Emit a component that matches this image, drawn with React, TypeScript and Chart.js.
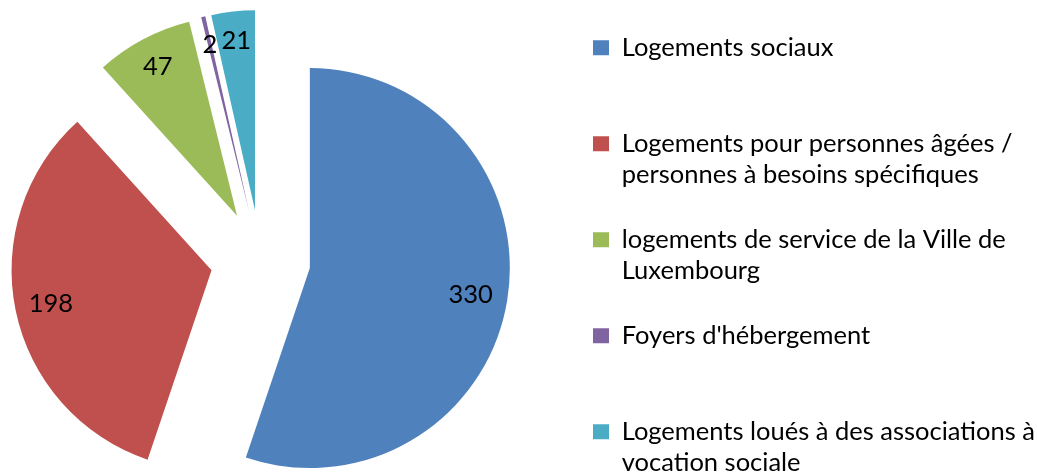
import React, { useEffect, useRef } from 'react';
import { Chart, registerables, ArcElement, PieController } from 'chart.js';

// ---- data ----
const categories: string[][] = [
  ['Logements sociaux'],
  ['Logements pour personnes âgées /', 'personnes à besoins spécifiques'],
  ['logements de service de la Ville de', 'Luxembourg'],
  ["Foyers d'hébergement"],
  ['Logements loués à des associations à', 'vocation sociale'],
];
const values = [330, 198, 47, 2, 21];
const colors = ['#4F81BD', '#C0504D', '#9BBB59', '#8064A2', '#4BACC6'];

// ---- style / layout ----
const EXPLODE = 50; // px each slice is pulled out
const PIE_RADIUS = 200;
const LABEL_RADIUS = [0.815, 0.82, 0.845, 0.855, 0.855];
const FONT_FAMILY = 'Lato, "Open Sans", sans-serif';
const FONT_SIZE = 25.5;
const SHIFT_X = 39; // canvas is drawn wider/taller than the view and clipped
const CANVAS_W = 1140;
const CANVAS_H = 518;
const LEGEND_PAD = 33;
const BOX_W = 16;
const LEGEND_LEFT = 599; // canvas px where the legend block starts

class ExplodedArc extends ArcElement {
  static id = 'explodedArc';
  draw(ctx: CanvasRenderingContext2D) {
    const mid = (this.startAngle + this.endAngle) / 2;
    ctx.save();
    ctx.translate(Math.cos(mid) * EXPLODE, Math.sin(mid) * EXPLODE);
    super.draw(ctx);
    ctx.restore();
  }
}

class ExplodedPieController extends PieController {
  static id = 'explodedPie';
  static defaults = { dataElementType: 'explodedArc' };
}

Chart.register(...registerables, ExplodedArc, ExplodedPieController);

const valueLabels = {
  id: 'valueLabels',
  afterDatasetsDraw(chart: any) {
    const meta = chart.getDatasetMeta(0);
    const ctx = chart.ctx;
    ctx.save();
    ctx.font = `${FONT_SIZE}px ${FONT_FAMILY}`;
    ctx.fillStyle = '#000000';
    ctx.textAlign = 'center';
    ctx.textBaseline = 'middle';
    meta.data.forEach((arc: any, i: number) => {
      const { x, y, startAngle, endAngle, outerRadius } = arc.getProps(
        ['x', 'y', 'startAngle', 'endAngle', 'outerRadius'],
        true
      );
      const mid = (startAngle + endAngle) / 2;
      const r = EXPLODE + outerRadius * LABEL_RADIUS[i];
      ctx.fillText(String(values[i]), x + Math.cos(mid) * r, y + Math.sin(mid) * r);
    });
    ctx.restore();
  },
};

export default function App() {
  const ref = useRef<HTMLCanvasElement | null>(null);

  useEffect(() => {
    document.body.style.margin = '0';
    const canvas = ref.current;
    if (!canvas) return;

    // legend width as Chart.js computes it (longest line by character count)
    const mctx = canvas.getContext('2d')!;
    mctx.font = `${FONT_SIZE}px ${FONT_FAMILY}`;
    const allLines = categories.flat();
    const longest = allLines.reduce((a, b) => (a.length > b.length ? a : b));
    const legendW = LEGEND_PAD + BOX_W + FONT_SIZE / 2 + mctx.measureText(longest).width + 10;
    const padRight = Math.max(0, CANVAS_W - LEGEND_LEFT - legendW);

    const chart = new Chart(canvas, {
      type: 'explodedPie' as any,
      data: {
        labels: categories as any,
        datasets: [
          {
            data: values,
            backgroundColor: colors,
            borderWidth: 0,
          },
        ],
      },
      options: {
        animation: false,
        responsive: false,
        events: [],
        radius: PIE_RADIUS,
        layout: {
          padding: { left: 0, right: padRight, top: 2, bottom: 0 },
        },
        plugins: {
          tooltip: { enabled: false },
          legend: {
            position: 'right',
            align: 'start',
            labels: {
              boxWidth: BOX_W,
              boxHeight: 15,
              padding: LEGEND_PAD,
              color: '#000000',
              font: { family: FONT_FAMILY, size: FONT_SIZE, lineHeight: '31.5px' },
              generateLabels(ch: any) {
                const items = (PieController as any).overrides.plugins.legend.labels.generateLabels(ch);
                return items.map((it: any) => {
                  const lines = Array.isArray(it.text) ? [...it.text] : [String(it.text)];
                  while (lines.length < 2) lines.push('');
                  return { ...it, text: lines, lineWidth: 0 };
                });
              },
            },
          },
        },
      } as any,
      plugins: [valueLabels],
    });
    return () => chart.destroy();
  }, []);

  return (
    <div style={{ width: 1037, height: 475, position: 'relative', overflow: 'hidden', background: '#fff' }}>
      <canvas
        ref={ref}
        width={CANVAS_W}
        height={CANVAS_H}
        style={{ display: 'block', position: 'absolute', left: -SHIFT_X, top: 0 }}
      />
    </div>
  );
}
